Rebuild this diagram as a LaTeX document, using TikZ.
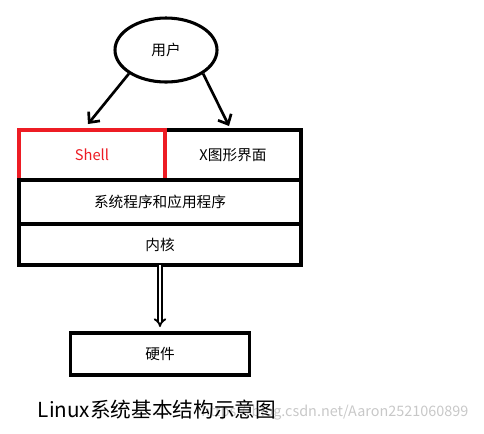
\documentclass[tikz,border=0pt]{standalone}
\usepackage{fontspec}
\setmainfont{Noto Sans CJK SC}
\usepackage{xcolor}
\definecolor{paintRed}{HTML}{ED1C24}
\definecolor{markGray}{HTML}{C8C8C8}
\usetikzlibrary{shapes.geometric,arrows.meta,positioning}
\tikzset{
    layer/.style={
        draw=black,
        fill=white,
        rectangle,
        line width=2.5pt,
        inner sep=0pt,
        outer sep=0pt,
        align=center,
        font=\fontsize{11}{13}\selectfont
    },
    redlayer/.style={
        layer,
        draw=paintRed,
        text=paintRed
    },
    userell/.style={
        draw=black,
        fill=white,
        ellipse,
        line width=2.3pt,
        inner sep=0pt,
        minimum width=76.5pt,
        minimum height=48pt,
        font=\fontsize{11}{13}\selectfont
    },
    arrow/.style={
        -{Straight Barb[length=6pt,width=11pt]},
        line width=2pt,
        color=black
    },
    dblarrow/.style={
        -{Implies[length=10pt,width=9pt]},
        double,
        double distance=1.6pt,
        line width=1.4pt,
        color=black
    },
    caption/.style={
        font=\fontsize{15.5}{18}\selectfont
    },
    watermark/.style={
        font=\fontsize{10.8}{13}\selectfont,
        text=markGray
    }
}

\begin{document}
\begin{tikzpicture}[x=0.75pt,y=-0.75pt]
    \useasboundingbox (0,0) rectangle (484,433);

    % User
    \node[userell] (user) at (166,50) {用户};

    % Layers
    \node[layer, minimum width=102pt, minimum height=37.5pt] (xgui) at (233,155) {X图形界面};
    \node[redlayer, minimum width=109.5pt, minimum height=37.5pt, left=0pt of xgui] (shell) {Shell};
    \node[layer, minimum width=211.5pt, minimum height=33pt] (sysapp) at (160,202) {系统程序和应用程序};
    \node[layer, minimum width=211.5pt, minimum height=30.75pt, below=0pt of sysapp] (kernel) {内核};
    \node[layer, minimum width=134.25pt, minimum height=31.5pt, below=51pt of kernel] (hardware) {硬件};

    % Arrows from user to the shells
    \coordinate (shelltip) at (88,124);
    \coordinate (xguitip) at (229,126);
    \draw[arrow] (user.south west) -- (shelltip);
    \draw[arrow] (user.south east) -- (xguitip);

    % Kernel to hardware
    \draw[dblarrow, shorten >=4.5pt] (kernel) -- (hardware);

    % Caption
    \node[watermark, anchor=east] (mark) at (473,413) {https://blog.csdn.net/Aaron2521060899};
    \node[caption] (title) at (157,410) {Linux系统基本结构示意图};
\end{tikzpicture}
\end{document}
